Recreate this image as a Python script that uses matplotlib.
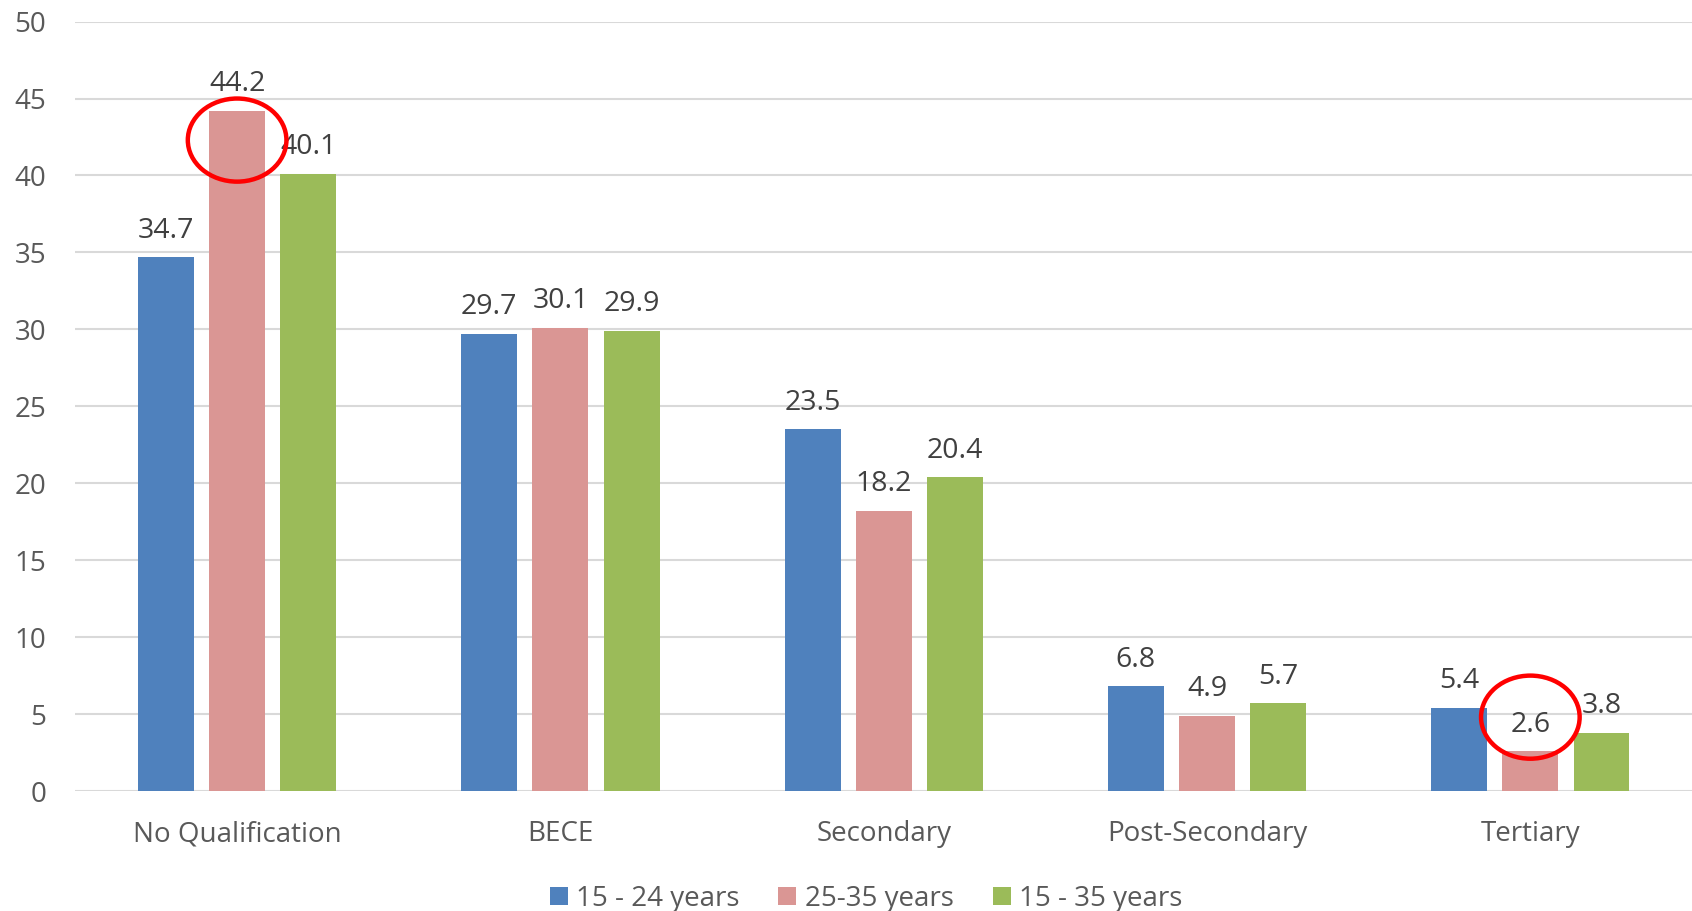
import numpy as np
import matplotlib.pyplot as plt
from matplotlib.patches import Ellipse

plt.rcParams['font.family'] = ['Open Sans', 'DejaVu Sans']

categories = ['No Qualification', 'BECE', 'Secondary', 'Post-Secondary', 'Tertiary']
series_names = ['15 - 24 years', '25-35 years', '15 - 35 years']
age_15_24 = [34.7, 29.7, 23.5, 6.8, 5.4]
age_25_35 = [44.2, 30.1, 18.2, 4.9, 2.6]
age_15_35 = [40.1, 29.9, 20.4, 5.7, 3.8]
yticks = [0, 5, 10, 15, 20, 25, 30, 35, 40, 45, 50]
# highlighted bars (category index, series index)
highlights = [(0, 1), (4, 1)]

colors = ['#4F81BD', '#DA9694', '#9BBB59']

fig = plt.figure(figsize=(16.92, 9.11), dpi=100)
ax = fig.add_axes([0.0446, 0.1317, 0.9554, 0.8446])

x = np.arange(len(categories))
width = 0.173
step = 0.22
data = [age_15_24, age_25_35, age_15_35]
for i, (vals, name, c) in enumerate(zip(data, series_names, colors)):
    pos = x + (i - 1) * step
    ax.bar(pos, vals, width, color=c, label=name, zorder=3)
    for px, v in zip(pos, vals):
        ax.annotate(f'{v:.1f}', (px, v), xytext=(0, 9), textcoords='offset points',
                    ha='center', va='bottom', fontsize=20.5, color='#404040', zorder=5)

# red circles around the highlighted values
for ci, si in highlights:
    v = data[si][ci]
    cx = x[ci] + (si - 1) * step
    cy = v - 1.9 if v > 10 else v + 2.2
    ax.add_patch(Ellipse((cx, cy), 0.305, 5.4, fill=False, edgecolor='#FF0000',
                         linewidth=3.2, zorder=6, clip_on=False))

ax.set_xlim(-0.5, len(categories) - 0.5)
ax.set_ylim(0, 50)
ax.set_yticks(yticks)
ax.set_xticks(x)
ax.set_xticklabels(categories)
ax.tick_params(axis='both', length=0, labelsize=20, labelcolor='#595959')
ax.tick_params(axis='x', pad=21)
ax.tick_params(axis='y', pad=21)
ax.grid(axis='y', color='#D9D9D9', linewidth=1.5, zorder=0)
for s in ax.spines.values():
    s.set_visible(False)

ax.legend(loc='center', bbox_to_anchor=(0.489, -0.14), ncol=3, frameon=False,
          fontsize=20, labelcolor='#595959', handlelength=0.65, handleheight=0.65,
          handletextpad=0.3, columnspacing=1.4, borderaxespad=0)

fig.savefig('out.png', dpi=100)
